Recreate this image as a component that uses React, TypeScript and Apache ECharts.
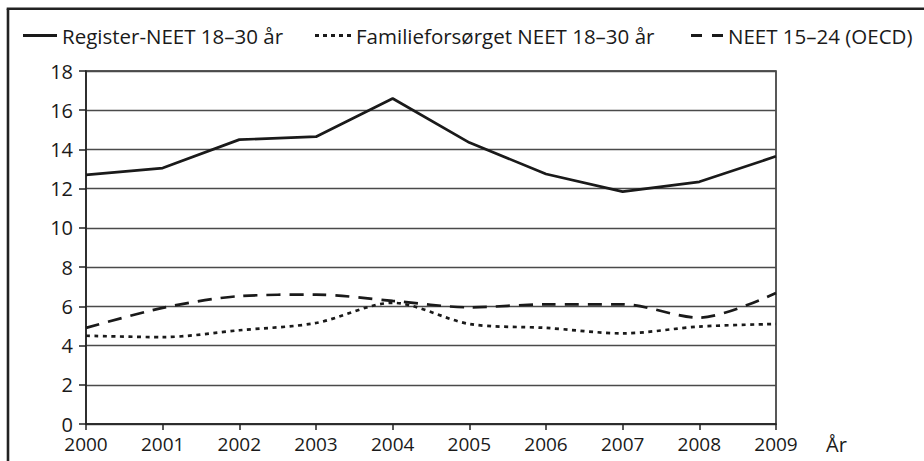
import React, { useEffect, useRef } from "react";
import * as echarts from "echarts";

const years = ["2000", "2001", "2002", "2003", "2004", "2005", "2006", "2007", "2008", "2009"];
const registerNeet = [12.7, 13.05, 14.5, 14.65, 16.6, 14.35, 12.75, 11.85, 12.35, 13.65];
const familieNeet = [4.5, 4.43, 4.78, 5.15, 6.18, 5.1, 4.9, 4.62, 4.97, 5.1];
const oecdNeet = [4.9, 5.92, 6.52, 6.6, 6.28, 5.95, 6.1, 6.1, 5.42, 6.68];
const seriesNames = ["Register-NEET 18–30 år", "Familieforsørget NEET 18–30 år", "NEET 15–24 (OECD)"];

const FONT = "Open Sans";

export default function App() {
  const ref = useRef<HTMLDivElement>(null);
  useEffect(() => {
    document.body.style.margin = "0";
    if (!ref.current) return;
    const chart = echarts.init(ref.current, null, { renderer: "svg" });
    const legendBase = {
      orient: "horizontal",
      top: 25,
      padding: 0,
      itemHeight: 3,
      selectedMode: false,
      textStyle: { fontFamily: FONT, fontSize: 20.5, color: "#1a1a1a" },
    };
    chart.setOption({
      animation: false,
      backgroundColor: "#fff",
      textStyle: { fontFamily: FONT },
      legend: [
        {
          ...legendBase,
          left: 23,
          itemWidth: 34,
          data: [{ name: seriesNames[0], icon: "path://M0,0h34v3h-34z" }],
        },
        {
          ...legendBase,
          left: 315,
          itemWidth: 36,
          data: [{ name: seriesNames[1], icon: "path://M0,0h4v3h-4z M8,0h4v3h-4z M16,0h4v3h-4z M24,0h4v3h-4z M32,0h4v3h-4z" }],
        },
        {
          ...legendBase,
          left: 691,
          itemWidth: 32,
          data: [{ name: seriesNames[2], icon: "path://M0,0h11v3h-11z M21,0h11v3h-11z" }],
        },
      ],
      grid: {
        left: 86,
        right: 148,
        top: 71,
        bottom: 37,
        show: true,
        borderColor: "#222",
        borderWidth: 1.5,
        containLabel: false,
      },
      xAxis: {
        type: "category",
        data: years,
        boundaryGap: false,
        name: "År",
        nameLocation: "end",
        nameGap: 50,
        nameTextStyle: { fontFamily: FONT, fontSize: 20, color: "#1a1a1a", verticalAlign: "top", padding: [10, 0, 0, 0] },
        axisLine: { lineStyle: { color: "#222", width: 1.5 } },
        axisTick: { show: true, length: 6, lineStyle: { color: "#222", width: 1.5 } },
        axisLabel: { margin: 12, fontFamily: FONT, fontSize: 19, lineHeight: 15, color: "#1a1a1a" },
        splitLine: { show: false },
      },
      yAxis: {
        type: "value",
        min: 0,
        max: 18,
        interval: 2,
        axisLine: { show: true, lineStyle: { color: "#222", width: 1.5 } },
        axisTick: { show: true, length: 7, lineStyle: { color: "#222", width: 1.5 } },
        axisLabel: { margin: 13, fontFamily: FONT, fontSize: 20, lineHeight: 16, color: "#1a1a1a" },
        splitLine: { show: true, lineStyle: { color: "#4a4a4a", width: 1.3 } },
      },
      graphic: [
        { type: "line", shape: { x1: 8, y1: 461, x2: 8, y2: 8.7 }, style: { stroke: "#222", lineWidth: 2.6 } },
        { type: "line", shape: { x1: 6.7, y1: 8.7, x2: 924, y2: 8.7 }, style: { stroke: "#222", lineWidth: 2.6 } },
      ],
      series: [
        {
          name: seriesNames[0],
          type: "line",
          data: registerNeet,
          symbol: "none",
          lineStyle: { color: "#1a1a1a", width: 2.7, type: "solid" },
          itemStyle: { color: "#1a1a1a" },
        },
        {
          name: seriesNames[1],
          type: "line",
          data: familieNeet,
          symbol: "none",
          smooth: 0.3,
          lineStyle: { color: "#1a1a1a", width: 2.7, type: [4, 4.5] },
          itemStyle: { color: "#1a1a1a" },
        },
        {
          name: seriesNames[2],
          type: "line",
          data: oecdNeet,
          symbol: "none",
          smooth: 0.3,
          lineStyle: { color: "#1a1a1a", width: 2.7, type: [14, 9] },
          itemStyle: { color: "#1a1a1a" },
        },
      ],
    });
    return () => chart.dispose();
  }, []);
  return <div ref={ref} style={{ width: 924, height: 461 }} />;
}
